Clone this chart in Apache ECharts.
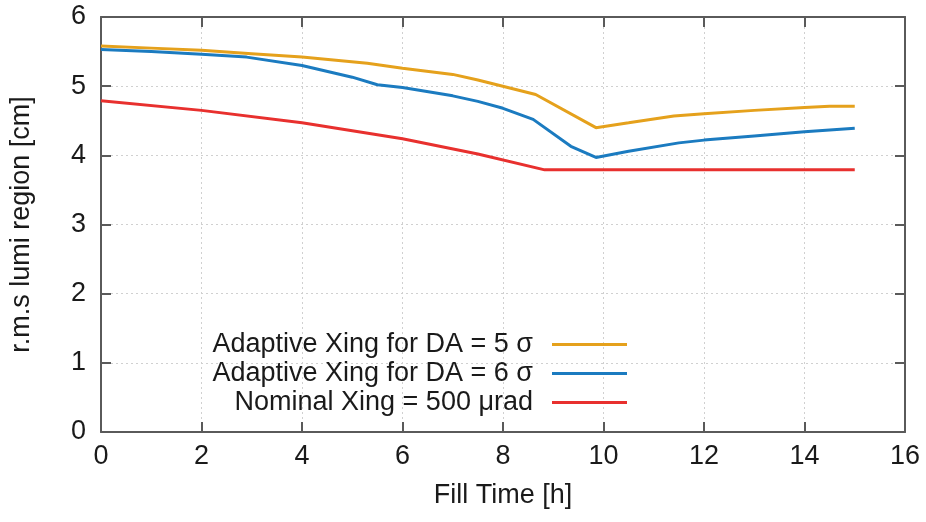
<!DOCTYPE html>
<html>
<head>
<meta charset="utf-8">
<script src="https://cdn.jsdelivr.net/npm/echarts@6/dist/echarts.min.js"></script>
<style>html,body{margin:0;padding:0;background:#fff}#c{width:926px;height:522px}</style>
</head>
<body>
<div id="c"></div>
<script>
var seriesNames = ['Adaptive Xing for DA = 5 σ', 'Adaptive Xing for DA = 6 σ', 'Nominal Xing = 500 μrad'];
var da5X = [0, 1, 2, 3, 4, 5.3, 6, 7, 7.5, 8.65, 9.85, 10.5, 11.4, 12, 13, 14, 14.5, 15];
var da5Y = [5.58, 5.55, 5.52, 5.47, 5.42, 5.33, 5.26, 5.17, 5.09, 4.88, 4.40, 4.47, 4.57, 4.60, 4.65, 4.69, 4.71, 4.71];
var da6X = [0, 1, 2, 2.9, 4, 5, 5.5, 6, 7, 7.5, 8, 8.6, 9.35, 9.85, 10.5, 11.5, 12, 13, 14, 15];
var da6Y = [5.53, 5.50, 5.46, 5.42, 5.30, 5.13, 5.02, 4.98, 4.86, 4.78, 4.68, 4.52, 4.13, 3.97, 4.06, 4.18, 4.22, 4.28, 4.34, 4.39];
var nomX = [0, 2, 4, 6, 7.5, 8.83, 15];
var nomY = [4.79, 4.65, 4.47, 4.24, 4.02, 3.79, 3.79];
var xTicks = [0, 2, 4, 6, 8, 10, 12, 14, 16];
var yTicks = [0, 1, 2, 3, 4, 5, 6];
var colors = ['#E5A11C', '#1B7BC0', '#E8302E'];

function pairs(xs, ys) { return xs.map(function (x, i) { return [x, ys[i]]; }); }

var FONT = 'Liberation Sans';
var FS = 27;
var TXT = '#1a1a1a';
var AX = '#5a5a5a';

var chart = echarts.init(document.getElementById('c'), null, { renderer: 'canvas' });

function legend(i, top) {
  return {
    data: [{ name: seriesNames[i], icon: 'rect' }],
    right: 299, top: top, padding: 0,
    align: 'right', orient: 'vertical',
    itemWidth: 75, itemHeight: 3,
    selectedMode: false,
    textStyle: { fontFamily: FONT, fontSize: FS, color: TXT, padding: [0, 14, 0, 0] }
  };
}

function axisBase() {
  return {
    type: 'value',
    axisLine: { show: true, onZero: false, lineStyle: { color: AX, width: 2 } },
    axisTick: { show: true, inside: true, length: 10, lineStyle: { color: AX, width: 2 } },
    minorTick: { show: false }
  };
}

chart.setOption({
  animation: false,
  backgroundColor: '#fff',
  grid: { left: 101, right: 21, top: 17, bottom: 90, containLabel: false },
  legend: [legend(0, 331), legend(1, 360), legend(2, 389)],
  xAxis: [
    Object.assign(axisBase(), {
      min: 0, max: 16, interval: 2, position: 'bottom',
      name: 'Fill Time [h]', nameLocation: 'middle', nameGap: 50,
      nameTextStyle: { fontFamily: FONT, fontSize: FS, color: TXT },
      axisLabel: { fontFamily: FONT, fontSize: FS, color: TXT, margin: 11,
        formatter: function (v) { return xTicks.indexOf(v) >= 0 ? String(v) : ''; } },
      splitLine: { show: true, lineStyle: { color: '#d0d0d0', type: [2, 3], width: 1 } }
    }),
    Object.assign(axisBase(), {
      min: 0, max: 16, interval: 2, position: 'top',
      axisLabel: { show: false }, splitLine: { show: false }
    })
  ],
  yAxis: [
    Object.assign(axisBase(), {
      min: 0, max: 6, interval: 1, position: 'left',
      name: 'r.m.s lumi region [cm]', nameLocation: 'middle', nameGap: 66,
      nameTextStyle: { fontFamily: FONT, fontSize: FS, color: TXT },
      axisLabel: { fontFamily: FONT, fontSize: FS, color: TXT, margin: 15,
        formatter: function (v) { return yTicks.indexOf(v) >= 0 ? String(v) : ''; } },
      splitLine: { show: true, lineStyle: { color: '#d0d0d0', type: [2, 3], width: 1 } }
    }),
    Object.assign(axisBase(), {
      min: 0, max: 6, interval: 1, position: 'right',
      axisLabel: { show: false }, splitLine: { show: false }
    })
  ],
  series: [
    { name: seriesNames[0], type: 'line', data: pairs(da5X, da5Y), symbol: 'none', color: colors[0],
      lineStyle: { color: colors[0], width: 3 } },
    { name: seriesNames[1], type: 'line', data: pairs(da6X, da6Y), symbol: 'none', color: colors[1],
      lineStyle: { color: colors[1], width: 3 } },
    { name: seriesNames[2], type: 'line', data: pairs(nomX, nomY), symbol: 'none', color: colors[2],
      lineStyle: { color: colors[2], width: 3 } }
  ]
});
</script>
</body>
</html>
